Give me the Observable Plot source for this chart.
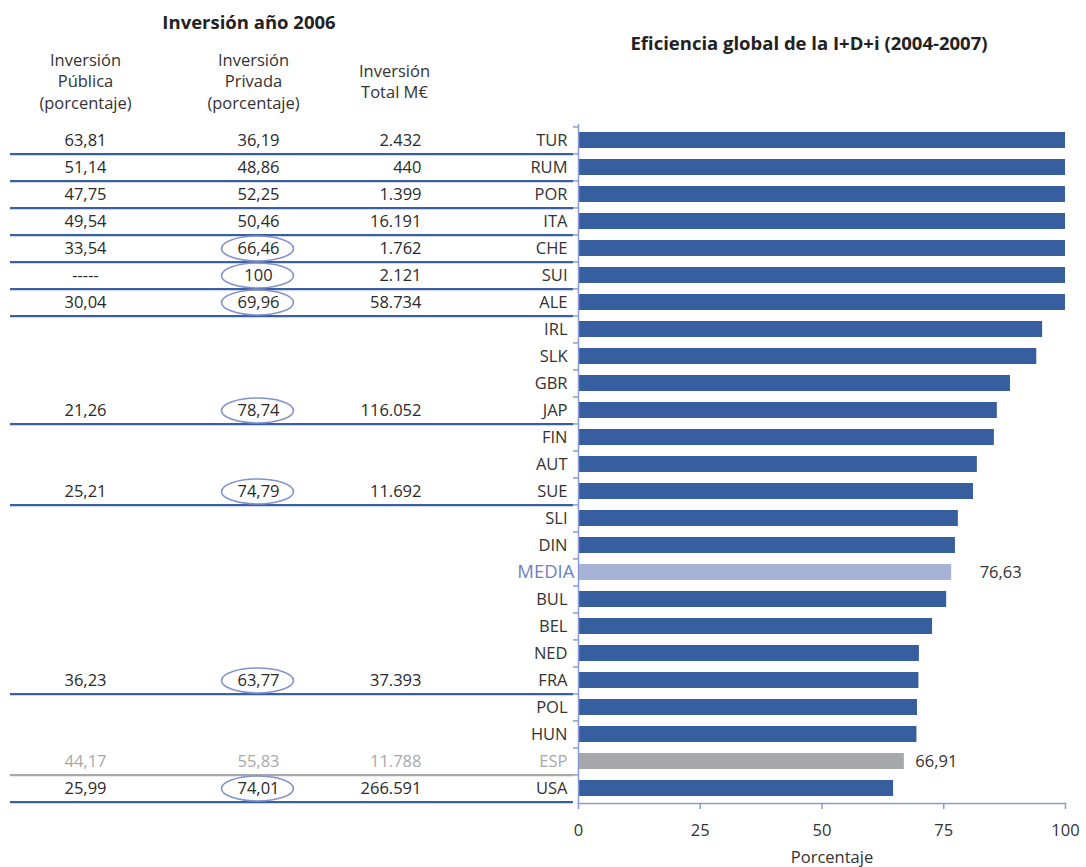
<!DOCTYPE html>
<html>
<head>
<meta charset="utf-8">
<script src="https://cdn.jsdelivr.net/npm/d3@7"></script>
<script src="https://cdn.jsdelivr.net/npm/@observablehq/plot@0.6"></script>
<style>
  body { margin: 0; background: #fff; }
  #wrap { position: relative; width: 1086px; height: 867px; overflow: hidden; font-family: "Open Sans", sans-serif; }
  #wrap svg { position: absolute; left: 0; top: 0; background: none !important; }
  .title { position: absolute; text-align: center; font-weight: bold; font-size: 18.5px; color: #222; line-height: 22px; font-family: "Open Sans", sans-serif; }
</style>
</head>
<body>
<div id="wrap">
  <div class="title" style="left:0;width:498px;top:11px">Inversión año 2006</div>
  <div class="title" style="left:559px;width:500px;top:32px">Eficiencia global de la I+D+i (2004-2007)</div>
</div>
<script>
// ---- Data: bar chart ----
const countries = ["TUR","RUM","POR","ITA","CHE","SUI","ALE","IRL","SLK","GBR","JAP","FIN","AUT","SUE","SLI","DIN","MEDIA","BUL","BEL","NED","FRA","POL","HUN","ESP","USA"];
const efficiency = [100,100,100,100,100,100,100,95.3,94.1,88.7,86.0,85.4,81.9,81.1,78.0,77.4,76.63,75.6,72.7,70.0,69.9,69.6,69.5,66.91,64.7];
const xTicks = [0, 25, 50, 75, 100];
const xLabel = "Porcentaje";

// ---- Data: investment table (2006) ----
const tableCountries = ["TUR","RUM","POR","ITA","CHE","SUI","ALE","JAP","SUE","FRA","ESP","USA"];
const publicPct  = [63.81,51.14,47.75,49.54,33.54,null,30.04,21.26,25.21,36.23,44.17,25.99];
const privatePct = [36.19,48.86,52.25,50.46,66.46,100,69.96,78.74,74.79,63.77,55.83,74.01];
const totalMEur  = [2432,440,1399,16191,1762,2121,58734,116052,11692,37393,11788,266591];
const circled    = ["CHE","SUI","ALE","JAP","SUE","FRA","USA"];
const headerCols = ["pub","priv","total"];
const headerText = ["Inversión\nPública\n(porcentaje)","Inversión\nPrivada\n(porcentaje)","Inversión\nTotal M€"];

// ---- Styles ----
const barBlue = "#375f9f", mediaFill = "#a7b3d6", espFill = "#a7a8ab";
const axisColor = "#8a9bd1", lineBlue = "#3a5fa3", grey = "#a9a9a9", ink = "#2a2a2a";
const fontSize = 16.5;

const loc = d3.formatLocale({decimal: ",", thousands: ".", grouping: [3], currency: ["", ""]});
const fPct = v => v == null ? "-----" : (Number.isInteger(v) ? String(v) : loc.format(".2f")(v));
const fTot = loc.format(",d");

const bars = countries.map((c, i) => ({country: c, value: efficiency[i],
  fill: c === "MEDIA" ? mediaFill : c === "ESP" ? espFill : barBlue,
  label: c === "MEDIA" ? "#6e7fc2" : c === "ESP" ? grey : "#333"}));
const table = tableCountries.map((c, i) => ({country: c, pub: fPct(publicPct[i]), priv: fPct(privatePct[i]),
  total: fTot(totalMEur[i]), color: c === "ESP" ? grey : ink, line: c === "ESP" ? grey : lineBlue}));
const headers = headerCols.map((c, i) => ({col: c, text: headerText[i]}));

const H = 867, mTop = 124, mBottom = 64;
const step = (H - mTop - mBottom) / countries.length;
const yOpts = {domain: countries, paddingInner: 0.41, paddingOuter: 0.205, axis: null};

const ellipse = {draw(ctx) {
  const rx = 36, ry = 12.5, k = 0.5523;
  ctx.moveTo(rx, 0);
  ctx.bezierCurveTo(rx, ry*k, rx*k, ry, 0, ry);
  ctx.bezierCurveTo(-rx*k, ry, -rx, ry*k, -rx, 0);
  ctx.bezierCurveTo(-rx, -ry*k, -rx*k, -ry, 0, -ry);
  ctx.bezierCurveTo(rx*k, -ry, rx, -ry*k, rx, 0);
  ctx.closePath();
}};

// ---- Right: bar chart ----
const right = Plot.plot({
  width: 1086, height: H, marginTop: mTop, marginBottom: mBottom, marginLeft: 578, marginRight: 21,
  style: {fontFamily: "Open Sans, sans-serif", fontSize: fontSize + "px", background: "none"},
  x: {domain: [0, 100], axis: null},
  y: yOpts,
  color: {type: "identity"},
  marks: [
    Plot.barX(bars, {y: "country", x: "value", fill: "fill"}),
    Plot.ruleX([0], {stroke: axisColor, strokeWidth: 1.5}),
    Plot.frame({anchor: "bottom", stroke: axisColor, strokeWidth: 1.5}),
    Plot.ruleY(countries, {y: d => d, dy: -step / 2, x1: 0, x2: 0, insetLeft: -5, stroke: axisColor, strokeWidth: 1.5}),
    Plot.ruleX(xTicks, {x: d => d, insetTop: H - mTop - mBottom, insetBottom: -6, stroke: axisColor, strokeWidth: 1.5}),
    Plot.text(xTicks, {x: d => d, text: d => String(d), frameAnchor: "bottom", dy: 32, fill: "#333"}),
    Plot.text([xLabel], {text: d => d, frameAnchor: "bottom", dx: 10, dy: 59, fill: "#333"}),
    Plot.text(bars.filter(d => d.country !== "MEDIA"), {y: "country", x: 0, text: "country", textAnchor: "end", dx: -11, fill: "label"}),
    Plot.text(bars.filter(d => d.country === "MEDIA"), {y: "country", x: 0, text: "country", textAnchor: "end", dx: -4, fill: "label", fontSize: 18.5}),
    Plot.text(bars.filter(d => d.country === "MEDIA"), {y: "country", x: "value", text: d => loc.format(".2f")(d.value), textAnchor: "start", dx: 28, fill: "#333"}),
    Plot.text(bars.filter(d => d.country === "ESP"), {y: "country", x: "value", text: d => loc.format(".2f")(d.value), textAnchor: "start", dx: 11, fill: "#333"})
  ]
});

// ---- Left: table ----
const left = Plot.plot({
  width: 578, height: H, marginTop: mTop, marginBottom: mBottom, marginLeft: 10, marginRight: 5,
  style: {fontFamily: "Open Sans, sans-serif", fontSize: fontSize + "px", background: "none"},
  x: {type: "point", domain: headerCols, range: [85, 421], padding: 0, axis: null},
  y: yOpts,
  color: {type: "identity"},
  marks: [
    Plot.ruleY(table, {y: "country", dy: step / 2, stroke: "line", strokeWidth: 2.2}),
    Plot.dot(table.filter(d => circled.includes(d.country)), {x: () => "priv", y: "country", dx: 4, symbol: ellipse, fill: "none", stroke: "#8392cf", strokeWidth: 1.6}),
    Plot.text(table, {x: () => "pub", y: "country", text: "pub", fill: "color"}),
    Plot.text(table, {x: () => "priv", y: "country", text: "priv", dx: 5, fill: "color"}),
    Plot.text(table, {x: () => "total", y: "country", text: "total", textAnchor: "end", fill: "color"}),
    Plot.text(headers.slice(0, 2), {x: "col", text: "text", frameAnchor: "top", dy: -44, lineAnchor: "middle", lineHeight: 1.32, fill: "#333"}),
    Plot.text(headers.slice(2), {x: "col", text: "text", frameAnchor: "top", dy: -44, dx: -27, lineAnchor: "middle", lineHeight: 1.32, fill: "#333"})
  ]
});

const wrap = document.getElementById("wrap");
wrap.appendChild(right);
wrap.appendChild(left);
</script>
</body>
</html>
